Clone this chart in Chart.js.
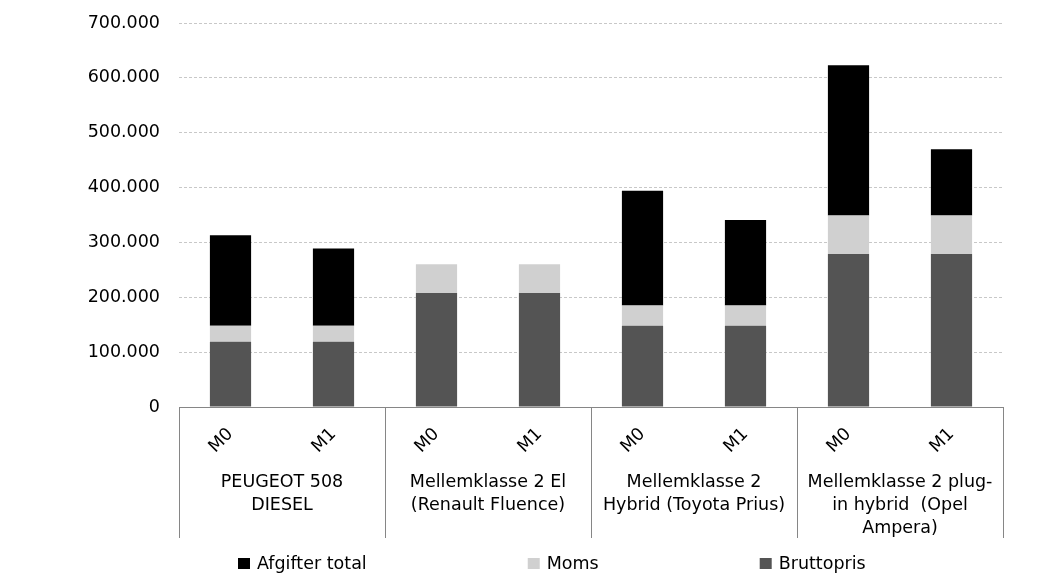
<!DOCTYPE html>
<html>
<head>
<meta charset="utf-8">
<script src="https://cdn.jsdelivr.net/npm/chart.js@4.4.1/dist/chart.umd.min.js"></script>
<style>
  html, body { margin: 0; padding: 0; background: #fff; }
  #wrap { width: 1052px; height: 586px; position: relative; }
</style>
</head>
<body>
<div id="wrap"><canvas id="chart"></canvas></div>
<script>
// data
const categories = ['M0', 'M1', 'M0', 'M1', 'M0', 'M1', 'M0', 'M1'];
const groupLabels = [
  ['PEUGEOT 508', 'DIESEL'],
  ['Mellemklasse 2 El', '(Renault Fluence)'],
  ['Mellemklasse 2', 'Hybrid (Toyota Prius)'],
  ['Mellemklasse 2 plug-', 'in hybrid  (Opel', 'Ampera)'],
];
const bruttopris = [119000, 119000, 208000, 208000, 148000, 148000, 279000, 279000];
const moms = [29000, 29000, 52000, 52000, 37000, 37000, 70000, 70000];
const afgifterTotal = [165000, 141000, 0, 0, 209000, 156000, 274000, 121000];
const yTickLabels = ['0', '100.000', '200.000', '300.000', '400.000', '500.000', '600.000', '700.000'];
const legendOrder = ['Afgifter total', 'Moms', 'Bruttopris'];

const FONT = 'DejaVu Sans, Verdana, sans-serif';
const FONT_SIZE = 17.5;
const AXIS_COLOR = '#868686';

// separators + group labels under the axis, and the legend
const groupAxisPlugin = {
  id: 'groupAxis',
  afterDraw(chart) {
    const { ctx, chartArea } = chart;
    const x = chart.scales.x;
    const step = x.getPixelForValue(1) - x.getPixelForValue(0);
    const bottom = chartArea.bottom;

    ctx.save();
    ctx.strokeStyle = AXIS_COLOR;
    ctx.lineWidth = 1;
    for (let g = 0; g <= groupLabels.length; g++) {
      const px = Math.round(x.getPixelForValue(g * 2) - step / 2) + 0.5;
      ctx.beginPath();
      ctx.moveTo(px, bottom);
      ctx.lineTo(px, bottom + 131);
      ctx.stroke();
    }

    ctx.fillStyle = '#000';
    ctx.font = `${FONT_SIZE}px ${FONT}`;
    ctx.textAlign = 'center';
    ctx.textBaseline = 'middle';
    groupLabels.forEach((lines, g) => {
      const cx = (x.getPixelForValue(g * 2) + x.getPixelForValue(g * 2 + 1)) / 2;
      lines.forEach((t, i) => ctx.fillText(t, cx, bottom + 75 + i * 23));
    });

    // legend
    let lx = 238;
    const ly = 564;
    ctx.textAlign = 'left';
    legendOrder.forEach((name) => {
      const ds = chart.data.datasets.find((d) => d.label === name);
      ctx.fillStyle = ds.backgroundColor;
      ctx.fillRect(lx, ly - 6, 12, 11);
      ctx.fillStyle = '#000';
      ctx.fillText(name, lx + 19, ly);
      lx += 19 + ctx.measureText(name).width + 161;
    });
    ctx.restore();
  },
};

new Chart(document.getElementById('chart'), {
  type: 'bar',
  data: {
    labels: categories,
    datasets: [
      { label: 'Bruttopris', data: bruttopris, backgroundColor: '#545454' },
      { label: 'Moms', data: moms, backgroundColor: '#d0d0d0' },
      { label: 'Afgifter total', data: afgifterTotal, backgroundColor: '#000000' },
    ],
  },
  plugins: [groupAxisPlugin],
  options: {
    responsive: true,
    maintainAspectRatio: false,
    animation: false,
    datasets: { bar: { barPercentage: 0.4, categoryPercentage: 1, borderWidth: 0 } },
    layout: { padding: { top: 23, right: 49, bottom: 0, left: 0 } },
    plugins: {
      legend: { display: false },
      tooltip: { enabled: false },
    },
    scales: {
      x: {
        stacked: true,
        grid: { display: false, drawTicks: false },
        border: { display: true, color: AXIS_COLOR, width: 1 },
        ticks: {
          color: '#000',
          font: { family: FONT, size: FONT_SIZE },
          minRotation: 45,
          maxRotation: 45,
          padding: 17,
        },
        afterFit(scale) { scale.height = 179; },
      },
      y: {
        stacked: true,
        min: 0,
        max: 700000,
        // invisible tick marks push the labels away from the plot
        grid: { color: '#c8c8c8', lineWidth: 1, drawTicks: true, tickLength: 19, tickColor: 'rgba(0,0,0,0)' },
        border: { display: false, dash: [3, 2] },
        ticks: {
          stepSize: 100000,
          color: '#000',
          padding: 0,
          font: { family: FONT, size: FONT_SIZE },
          callback: (v, i) => yTickLabels[i],
        },
        afterFit(scale) { scale.width = 179; },
      },
    },
  },
});
</script>
</body>
</html>
